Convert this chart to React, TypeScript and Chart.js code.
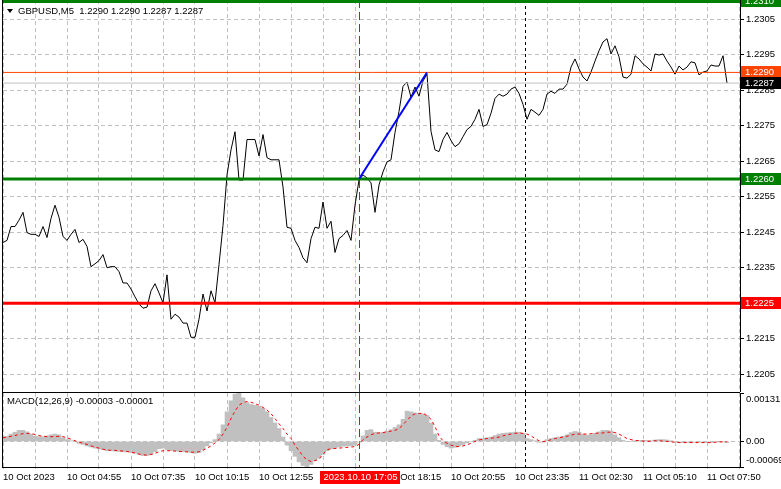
import React, { useEffect, useRef } from 'react';
import { Chart, registerables } from 'chart.js';

Chart.register(...registerables);

// ---------- data ----------
const BARS_PER_SAMPLE = 2; // each value below = one M5 bar out of two
const BARS_PER_GRID = 16;
const BARS_PER_LABEL = 32;
const TOTAL_BARS = 368.5;

const timeLabels = [
  '10 Oct 2023', '10 Oct 04:55', '10 Oct 07:35', '10 Oct 10:15', '10 Oct 12:55', '10 Oct 15:35',
  '10 Oct 18:15', '10 Oct 20:55', '10 Oct 23:35', '11 Oct 02:30', '11 Oct 05:10', '11 Oct 07:50',
];

const price = [
  1.22421, 1.22427, 1.22466, 1.22466, 1.22484, 1.22506, 1.22449, 1.22444, 1.22444, 1.22438,
  1.22466, 1.22435, 1.22489, 1.22526, 1.22492, 1.22438, 1.22427, 1.22444, 1.22458, 1.22421,
  1.22430, 1.22410, 1.22353, 1.22361, 1.22370, 1.22387, 1.22350, 1.22353, 1.22353, 1.22339,
  1.22307, 1.22307, 1.22290, 1.22268, 1.22248, 1.22236, 1.22239, 1.22285, 1.22305, 1.22279,
  1.22251, 1.22330, 1.22205, 1.22219, 1.22211, 1.22194, 1.22194, 1.22154, 1.22154, 1.22205,
  1.22276, 1.22228, 1.22285, 1.22251, 1.22359, 1.22469, 1.22611, 1.22682, 1.22733, 1.22597,
  1.22597, 1.22711, 1.22711, 1.22711, 1.22665, 1.22725, 1.22660, 1.22654, 1.22654, 1.22654,
  1.22577, 1.22464, 1.22461, 1.22427, 1.22407, 1.22378, 1.22364, 1.22432, 1.22464, 1.22461,
  1.22535, 1.22461, 1.22481, 1.22393, 1.22432, 1.22441, 1.22455, 1.22427, 1.22526, 1.22597,
  1.22611, 1.22603, 1.22589, 1.22506, 1.22583, 1.22620, 1.22648, 1.22654, 1.22731, 1.22790,
  1.22861, 1.22873, 1.22830, 1.22859, 1.22833, 1.22876, 1.22895, 1.22734, 1.22682, 1.22677,
  1.22711, 1.22731, 1.22708, 1.22691, 1.22699, 1.22719, 1.22739, 1.22748, 1.22768, 1.22796,
  1.22748, 1.22753, 1.22785, 1.22827, 1.22839, 1.22833, 1.22839, 1.22853, 1.22859, 1.22841,
  1.22810, 1.22768, 1.22796, 1.22788, 1.22779, 1.22796, 1.22839, 1.22847, 1.22841, 1.22853,
  1.22853, 1.22867, 1.22915, 1.22938, 1.22910, 1.22887, 1.22876, 1.22901, 1.22932, 1.22961,
  1.22986, 1.22995, 1.22952, 1.22975, 1.22944, 1.22887, 1.22884, 1.22895, 1.22947, 1.22938,
  1.22924, 1.22915, 1.22904, 1.22952, 1.22949, 1.22952, 1.22932, 1.22915, 1.22895, 1.22918,
  1.22907, 1.22915, 1.22930, 1.22927, 1.22893, 1.22901, 1.22904, 1.22921, 1.22918, 1.22918,
  1.22947, 1.22870,
];

// MACD values in units of 0.00001
const MACD_UNIT = 0.00001;
const macdMain = [
  12, 14, 20, 25, 30, 30, 26, 20, 14, 13,
  13, 15, 18, 20, 18, 10, 5, 2, 0, -5,
  -8, -12, -15, -18, -20, -22, -25, -25, -26, -27,
  -28, -28, -30, -32, -35, -38, -38, -35, -28, -20,
  -18, -22, -25, -25, -27, -28, -28, -30, -32, -30,
  -22, -12, -4, 5, 20, 45, 80, 110, 128, 131,
  118, 105, 100, 98, 95, 90, 80, 65, 50, 35,
  12, -10, -25, -40, -55, -65, -69, -62, -52, -45,
  -35, -25, -20, -18, -15, -13, -12, -12, -10, -2,
  15, 30, 32, 25, 24, 25, 28, 32, 38, 45,
  60, 82, 80, 77, 76, 75, 70, 50, 20, 3,
  -8, -14, -18, -16, -12, -8, -4, 0, 3, 8,
  8, 10, 12, 16, 20, 22, 23, 24, 25, 25,
  22, 8, 5, 2, -2, -2, 5, 8, 10, 12,
  14, 18, 24, 27, 25, 20, 17, 18, 22, 26,
  30, 30, 28, 18, 10, 3, 0, 0, 2, 3,
  3, 3, 2, 4, 5, 5, 4, 2, -2, -3,
  -3, -3, -3, -2, -2, -3, -3, -3, -2, -1,
  -1, -3,
];
const macdSignal = [
  10, 12, 14, 16, 19, 21, 22, 21, 19, 16,
  14, 13, 13, 13, 14, 13, 10, 6, 2, -2,
  -5, -8, -12, -15, -18, -21, -23, -24, -24, -25,
  -26, -27, -29, -31, -34, -36, -37, -35, -32, -28,
  -25, -25, -25, -26, -27, -27, -28, -29, -29, -28,
  -24, -18, -12, -4, 5, 20, 38, 62, 82, 98,
  105, 108, 106, 102, 98, 92, 85, 75, 62, 48,
  35, 20, 8, -10, -25, -40, -50, -54, -52, -47,
  -35, -22, -20, -19, -18, -17, -16, -15, -14, -8,
  5, 12, 18, 22, 23, 24, 26, 28, 30, 35,
  45, 57, 68, 75, 76, 76, 70, 60, 40, 15,
  2, -5, -10, -13, -14, -12, -9, -5, 0, 4,
  6, 8, 9, 10, 12, 15, 18, 20, 22, 23,
  22, 20, 15, 8, 2, 0, 1, 5, 8, 10,
  12, 14, 17, 20, 20, 20, 20, 21, 22, 23,
  23, 25, 25, 24, 20, 14, 8, 5, 3, 2,
  1, 0, 1, 2, 2, 1, 0, -1, -2, -3,
  -3, -3, -3, -3, -3, -3, -3, -3, -2, -1,
  -1, -1,
];

const priceTicks = [1.2205, 1.2215, 1.2225, 1.2235, 1.2245, 1.2255, 1.2265, 1.2275, 1.2285, 1.2295, 1.2305];
const macdTicks = [-0.00069, 0, 0.00131];
const PRICE_MIN = 1.22;
const PRICE_MAX = 1.23104;
const MACD_MIN = -0.00069;
const MACD_MAX = 0.00131;

const levelPrices = [1.231, 1.229, 1.2287, 1.226, 1.2225];
const trendBars = [178, 212];
const trendPrices = [1.226, 1.229];
const markerBars = [178, 261];
const highlightBar = 178;
const highlightLabel = '2023.10.10 17:05';
const symbolTitle = 'GBPUSD,M5  1.2290 1.2290 1.2287 1.2287';
const macdTitle = 'MACD(12,26,9) -0.00003 -0.00001';

// ---------- styles ----------
const FONT_FAMILY = '"Liberation Sans", Arial, sans-serif';
const FONT_SIZE = 9.5;
const CSS_FONT = `${FONT_SIZE}px ${FONT_FAMILY}`;
const GRID = '#c0c0c0';
const AXIS_W = 41;
const levelStyles = [
  { color: '#008000', width: 3, box: '#008000' },
  { color: '#ff4500', width: 1, box: '#ff4500' },
  { color: '#c0c0c0', width: 1, box: '#000000' },
  { color: '#008000', width: 3, box: '#008000' },
  { color: '#ff0000', width: 3, box: '#ff0000' },
];
const markerStyles = [
  { color: '#ff0000', dash: [8, 4] },
  { color: '#000000', dash: [3, 3] },
];

const gridBars: number[] = [];
for (let b = 0; b <= TOTAL_BARS; b += BARS_PER_GRID) gridBars.push(b);

function xScale(showLabels: boolean): any {
  return {
    type: 'linear',
    min: 0,
    max: TOTAL_BARS,
    offset: false,
    afterBuildTicks: (s: any) => {
      s.ticks = gridBars.map((v) => ({ value: v }));
    },
    afterFit: (s: any) => {
      s.height = showLabels ? 22 : 0;
      s.paddingLeft = 0;
      s.paddingRight = 0;
    },
    grid: {
      color: GRID,
      lineWidth: 1,
      drawTicks: showLabels,
      tickLength: 3,
      tickColor: GRID,
      tickBorderDash: [2, 2],
      offset: false,
    },
    border: { display: false, dash: [4, 3] },
    ticks: {
      display: showLabels,
      autoSkip: false,
      maxRotation: 0,
      minRotation: 0,
      align: 'start',
      padding: 2,
      color: '#000',
      font: { family: FONT_FAMILY, size: FONT_SIZE },
      callback: (v: number) => (v % BARS_PER_LABEL === 0 ? timeLabels[v / BARS_PER_LABEL] ?? '' : ''),
    },
  };
}

function drawMarkers(chart: any) {
  const { ctx, chartArea, scales } = chart;
  ctx.save();
  ctx.beginPath();
  ctx.rect(chartArea.left, chartArea.top, chartArea.right - chartArea.left, chartArea.bottom - chartArea.top);
  ctx.clip();
  markerBars.forEach((b, i) => {
    const x = Math.round(scales.x.getPixelForValue(b)) + 0.5;
    ctx.strokeStyle = markerStyles[i].color;
    ctx.setLineDash(markerStyles[i].dash);
    ctx.lineWidth = 1;
    ctx.beginPath();
    ctx.moveTo(x, chartArea.top);
    ctx.lineTo(x, chartArea.bottom);
    ctx.stroke();
  });
  ctx.restore();
}

const mainPlugin = {
  id: 'mainDecor',
  beforeDatasetsDraw(chart: any) {
    drawMarkers(chart);
  },
  afterDraw(chart: any) {
    const { ctx, chartArea, scales } = chart;
    ctx.save();
    // left frame
    ctx.fillStyle = '#000';
    ctx.fillRect(chartArea.left - 1, chartArea.top, 1, chartArea.bottom - chartArea.top);
    // title
    ctx.beginPath();
    ctx.moveTo(7, 9);
    ctx.lineTo(13, 9);
    ctx.lineTo(10, 13);
    ctx.closePath();
    ctx.fill();
    ctx.font = CSS_FONT;
    ctx.textBaseline = 'middle';
    ctx.textAlign = 'left';
    ctx.fillText(symbolTitle, 18, 11);
    // price boxes on the axis
    levelPrices.forEach((p, i) => {
      const y = Math.round(scales.y.getPixelForValue(p));
      ctx.fillStyle = levelStyles[i].box;
      ctx.fillRect(scales.y.left + 1, y - 6, AXIS_W, 12);
      ctx.fillStyle = '#fff';
      ctx.fillText(p.toFixed(4), scales.y.left + 5, y + 0.5);
    });
    ctx.restore();
  },
};

const macdPlugin = {
  id: 'macdDecor',
  beforeDatasetsDraw(chart: any) {
    drawMarkers(chart);
  },
  afterDraw(chart: any) {
    const { ctx, chartArea, scales } = chart;
    ctx.save();
    ctx.fillStyle = '#000';
    // frame
    ctx.fillRect(chartArea.left - 1, 0, chartArea.right - chartArea.left + 1, 1);
    ctx.fillRect(chartArea.left - 1, chartArea.bottom, chartArea.right - chartArea.left + 1, 1);
    ctx.fillRect(chartArea.left - 1, 0, 1, chartArea.bottom + 1);
    // title
    ctx.font = CSS_FONT;
    ctx.textBaseline = 'middle';
    ctx.textAlign = 'left';
    ctx.fillText(macdTitle, 7, 9);
    // highlighted time label
    const x = Math.round(scales.x.getPixelForValue(highlightBar)) + 0.5;
    const w = ctx.measureText(highlightLabel).width + 6;
    ctx.fillStyle = '#ff0000';
    ctx.fillRect(Math.round(x - w / 2), chartArea.bottom + 4, Math.round(w), 13);
    ctx.fillStyle = '#fff';
    ctx.textAlign = 'center';
    ctx.fillText(highlightLabel, x + 1, chartArea.bottom + 10.5);
    ctx.restore();
  },
};

export default function App() {
  const mainRef = useRef<HTMLCanvasElement>(null);
  const macdRef = useRef<HTMLCanvasElement>(null);

  useEffect(() => {
    const priceData = price.map((p, i) => ({ x: i * BARS_PER_SAMPLE, y: p }));
    const histData = macdMain.map((v, i) => ({ x: i * BARS_PER_SAMPLE, y: v * MACD_UNIT }));
    const signalData = macdSignal.map((v, i) => ({ x: i * BARS_PER_SAMPLE, y: v * MACD_UNIT }));

    const main = new Chart(mainRef.current as HTMLCanvasElement, {
      type: 'line',
      data: {
        datasets: [
          {
            data: trendBars.map((b, i) => ({ x: b, y: trendPrices[i] })),
            borderColor: '#0000ff',
            borderWidth: 2,
            pointRadius: 0,
            order: 0,
          },
          ...levelPrices.map((p, i) => ({
            data: [{ x: 0, y: p }, { x: TOTAL_BARS, y: p }],
            borderColor: levelStyles[i].color,
            borderWidth: levelStyles[i].width,
            pointRadius: 0,
            order: 1,
          })),
          {
            data: priceData,
            borderColor: '#000000',
            borderWidth: 1,
            pointRadius: 0,
            tension: 0,
            order: 2,
          },
        ],
      } as any,
      options: {
        animation: false,
        responsive: false,
        devicePixelRatio: 1,
        events: [],
        layout: { padding: { left: 3, top: 0, right: 0, bottom: 0 } },
        plugins: { legend: { display: false }, tooltip: { enabled: false } },
        scales: {
          x: xScale(false),
          y: {
            type: 'linear',
            position: 'right',
            min: PRICE_MIN,
            max: PRICE_MAX,
            afterBuildTicks: (s: any) => {
              s.ticks = priceTicks.map((v) => ({ value: v }));
            },
            afterFit: (s: any) => {
              s.width = AXIS_W;
              s.paddingTop = 0;
              s.paddingBottom = 0;
            },
            grid: { color: GRID, lineWidth: 1, drawTicks: true, tickLength: 4, tickColor: '#000', tickBorderDash: [] },
            border: { display: true, color: '#000', width: 1, dash: [4, 3] },
            ticks: {
              autoSkip: false,
              padding: 2,
              color: '#000',
              font: { family: FONT_FAMILY, size: FONT_SIZE },
              callback: (v: number) => Number(v).toFixed(4),
            },
          },
        },
      } as any,
      plugins: [mainPlugin],
    });

    const macd = new Chart(macdRef.current as HTMLCanvasElement, {
      type: 'line',
      data: {
        datasets: [
          {
            type: 'line',
            data: signalData,
            borderColor: '#ff0000',
            borderWidth: 1,
            borderDash: [3, 3],
            pointRadius: 0,
            order: 0,
          },
          {
            type: 'bar',
            data: histData,
            backgroundColor: '#c0c0c0',
            borderWidth: 0,
            barPercentage: 1,
            categoryPercentage: 1,
            order: 1,
          },
        ],
      } as any,
      options: {
        animation: false,
        responsive: false,
        devicePixelRatio: 1,
        events: [],
        layout: { padding: { left: 3, top: 1, right: 0, bottom: 0 } },
        plugins: { legend: { display: false }, tooltip: { enabled: false } },
        scales: {
          x: xScale(true),
          y: {
            type: 'linear',
            position: 'right',
            min: MACD_MIN,
            max: MACD_MAX,
            afterBuildTicks: (s: any) => {
              s.ticks = macdTicks.map((v) => ({ value: v }));
            },
            afterFit: (s: any) => {
              s.width = AXIS_W;
              s.paddingTop = 0;
              s.paddingBottom = 0;
            },
            grid: {
              color: (c: any) => (c.tick && c.tick.value === 0 ? GRID : 'rgba(0,0,0,0)'),
              lineWidth: 1,
              drawTicks: true,
              tickLength: 4,
              tickColor: '#000',
              tickBorderDash: [],
            },
            border: { display: true, color: '#000', width: 1, dash: [4, 3] },
            ticks: {
              autoSkip: false,
              padding: 2,
              color: '#000',
              font: { family: FONT_FAMILY, size: FONT_SIZE, lineHeight: 1.4 },
              callback: (v: number) => {
                if (v === MACD_MAX) return ['', v.toFixed(5)];
                if (v === MACD_MIN) return [v.toFixed(5), ''];
                return '0.00';
              },
            },
          },
        },
      } as any,
      plugins: [macdPlugin],
    });

    return () => {
      main.destroy();
      macd.destroy();
    };
  }, []);

  return (
    <div
      style={{
        position: 'absolute',
        left: 0,
        top: 0,
        width: 781,
        height: 489,
        background: '#ffffff',
        overflow: 'hidden',
      }}
    >
      <canvas
        ref={mainRef}
        width={781}
        height={392}
        style={{ position: 'absolute', left: 0, top: 0, width: 781, height: 392, display: 'block' }}
      />
      <canvas
        ref={macdRef}
        width={781}
        height={97}
        style={{ position: 'absolute', left: 0, top: 392, width: 781, height: 97, display: 'block' }}
      />
    </div>
  );
}
